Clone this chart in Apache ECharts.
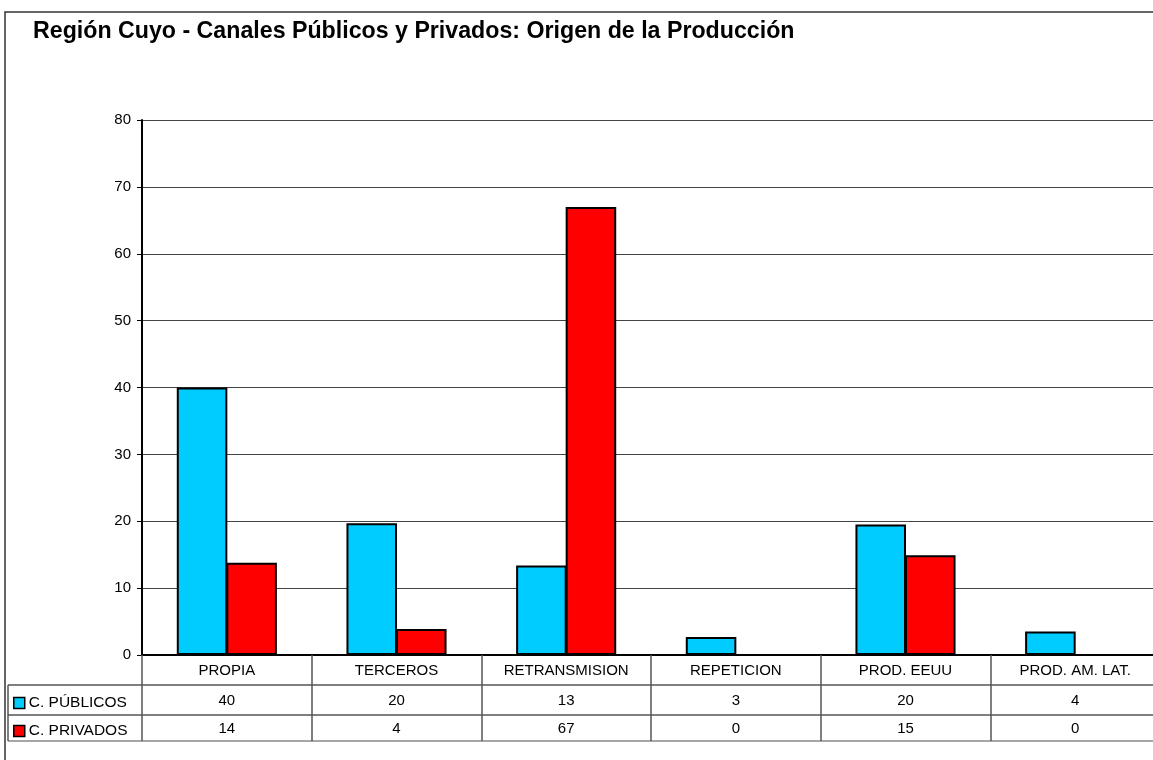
<!DOCTYPE html>
<html lang="es">
<head>
	<meta charset="UTF-8">
	<title>Región Cuyo - Origen de la Producción</title>
	<script type="text/javascript" src="https://cdn.jsdelivr.net/npm/echarts@6/dist/echarts.min.js"></script>
	<style type="text/css">
		html,body{margin:0;padding:0;background:#fff;overflow:hidden;}
	</style>
</head>
<body>
	<!-- un poco mas ancho que la ventana: la ultima categoria queda cortada como en el original -->
	<div id="main" style="width:1160px;height:760px;"></div>
	<script>
		// datos
		var categorias = ['PROPIA', 'TERCEROS', 'RETRANSMISION', 'REPETICION', 'PROD. EEUU', 'PROD. AM. LAT.'];
		var publicos = [40, 19.7, 13.4, 2.7, 19.5, 3.5];
		var privados = [13.8, 3.9, 67, 0, 14.9, 0];
		var ticksY = [0, 80, 10]; // min, max, intervalo

		var fuente = 'Liberation Sans, Arial, sans-serif';
		var chart = echarts.init(document.getElementById('main'));

		// ejes extra que hacen de filas de la tabla de datos
		function filaTabla(valores, offset){
			return {
				type: 'category',
				position: 'bottom',
				offset: offset,
				data: valores.map(function(v){ return String(Math.round(v)); }),
				axisLine: {show: false},
				axisTick: {show: false},
				axisLabel: {color: '#000', fontSize: 15, fontFamily: fuente, margin: 7, interval: 0}
			};
		}

		function leyenda(nombre, top){
			return {
				data: [nombre],
				left: 13, top: top, padding: 0,
				icon: 'rect', itemWidth: 11, itemHeight: 11, itemGap: 4,
				selectedMode: false,
				itemStyle: {borderWidth: 1.5},
				textStyle: {fontSize: 15.5, color: '#000', fontFamily: fuente, padding: [0, 0, 0, -1]}
			};
		}

		var option = {
			animation: false,
			title: {
				text: 'Región Cuyo - Canales Públicos y Privados: Origen de la Producción',
				left: 33, top: 20, padding: 0,
				textStyle: {fontSize: 23.2, fontWeight: 'bold', color: '#000', fontFamily: fuente}
			},
			legend: [leyenda('C. PÚBLICOS', 695), leyenda('C. PRIVADOS', 723)],
			grid: {left: 142, top: 120, right: 0, bottom: 105},
			xAxis: [{
				type: 'category',
				data: categorias,
				axisLine: {lineStyle: {color: '#000', width: 2}},
				axisTick: {show: true, length: 86, lineStyle: {color: '#555', width: 1.5}},
				axisLabel: {color: '#000', fontSize: 15, fontFamily: fuente, margin: 8, interval: 0}
			}, filaTabla(publicos, 31), filaTabla(privados, 59)],
			yAxis: {
				type: 'value',
				min: ticksY[0], max: ticksY[1], interval: ticksY[2],
				axisLine: {show: true, lineStyle: {color: '#000', width: 2}},
				axisTick: {show: true, length: 5, lineStyle: {color: '#000'}},
				axisLabel: {color: '#000', fontSize: 15, fontFamily: fuente, margin: 11},
				splitLine: {lineStyle: {color: '#444', width: 1}}
			},
			series: [{
				name: 'C. PÚBLICOS',
				type: 'bar',
				xAxisIndex: 0,
				barGap: '-2%',
				barCategoryGap: '41%',
				itemStyle: {color: '#00CCFF', borderColor: '#000', borderWidth: 2},
				data: publicos
			}, {
				name: 'C. PRIVADOS',
				type: 'bar',
				xAxisIndex: 0,
				itemStyle: {color: '#FF0000', borderColor: '#000', borderWidth: 2},
				data: privados
			}],
			graphic: [
				{type: 'rect', silent: true, shape: {x: 5, y: 12, width: 1170, height: 800}, style: {fill: null, stroke: '#333', lineWidth: 1.5}},
				{type: 'line', silent: true, shape: {x1: 8, y1: 685, x2: 1160, y2: 685}, style: {stroke: '#555', lineWidth: 1.5}},
				{type: 'line', silent: true, shape: {x1: 8, y1: 715, x2: 1160, y2: 715}, style: {stroke: '#555', lineWidth: 1.5}},
				{type: 'line', silent: true, shape: {x1: 8, y1: 741, x2: 1160, y2: 741}, style: {stroke: '#888', lineWidth: 1.5}},
				{type: 'line', silent: true, shape: {x1: 8, y1: 685, x2: 8, y2: 741}, style: {stroke: '#555', lineWidth: 1.5}}
			]
		};
		chart.setOption(option);
	</script>
</body>
</html>
